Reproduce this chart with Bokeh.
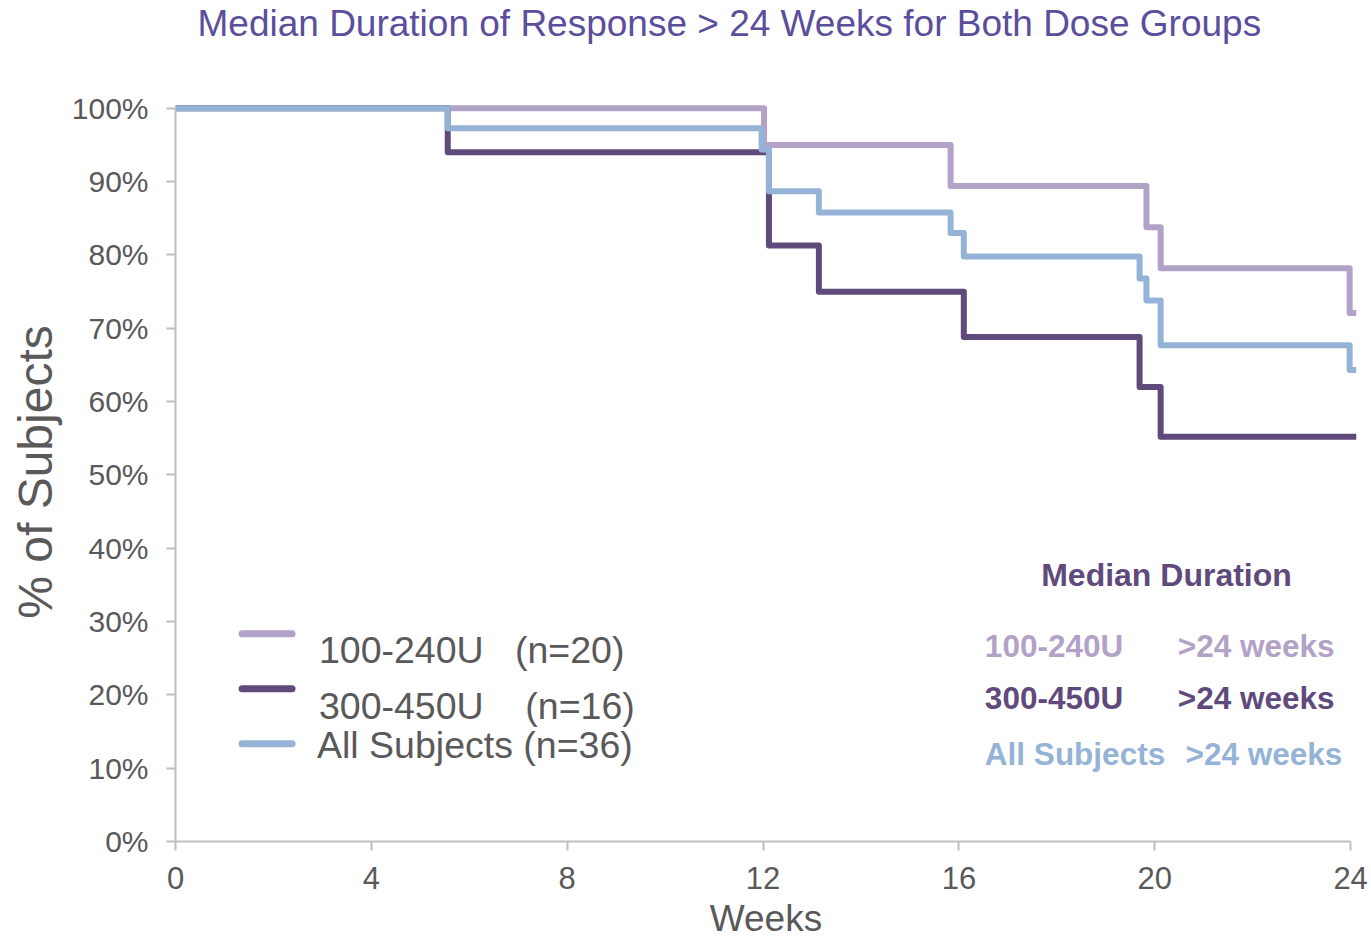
from bokeh.plotting import figure
from bokeh.models import ColumnDataSource, FixedTicker, PrintfTickFormatter, Range1d, Title
from bokeh.core.properties import value
from bokeh.embed import file_html
from bokeh.resources import INLINE

# ---------------- data ----------------
weeks_low = [0, 12.02, 15.83, 19.83, 20.12, 23.98, 24.12]
pct_low = [100, 95.0, 89.4, 83.8, 78.2, 72.1, 72.1]

weeks_high = [0, 5.56, 12.12, 13.14, 16.1, 19.69, 20.12, 24.12]
pct_high = [100, 94.0, 81.3, 75.0, 68.8, 62.0, 55.2, 55.2]

weeks_all = [0, 5.56, 11.97, 12.12, 13.14, 15.83, 16.1, 19.69, 19.83, 20.12, 23.98, 24.12]
pct_all = [100, 97.3, 94.4, 88.7, 85.8, 83.0, 79.8, 76.8, 73.8, 67.7, 64.3, 64.3]

NB = "\u00a0"
legend_labels = ["100-240U" + NB * 3 + "(n=20)", "300-450U" + NB * 4 + "(n=16)",
                 "All Subjects (n=36)"]
median_groups = ["100-240U", "300-450U", "All Subjects"]
median_values = [">24 weeks", ">24 weeks", ">24 weeks"]
median_header = "Median Duration"

x_ticks = [0, 4, 8, 12, 16, 20, 24]
y_ticks = [0, 10, 20, 30, 40, 50, 60, 70, 80, 90, 100]

title_text = "Median Duration of Response > 24 Weeks for Both Dose Groups"
x_label = "Weeks"
y_label = "% of Subjects"

# ---------------- style ----------------
FONT = "Liberation Sans"
C_LOW = "#B3A2C7"
C_HIGH = "#604A7B"
C_ALL = "#95B3D7"
GRAY = "#595959"
AXIS = "#BFBFBF"
TITLE_C = "#5B4E9C"
series_colors = [C_LOW, C_HIGH, C_ALL]

p = figure(width=1371, height=941, output_backend="svg", toolbar_location=None,
           x_range=Range1d(0, 24.12), y_range=Range1d(0, 100.8),
           min_border_left=175, min_border_right=15, min_border_top=102,
           min_border_bottom=99)
p.outline_line_color = None
p.xgrid.visible = False
p.ygrid.visible = False
p.background_fill_color = "white"
p.border_fill_color = "white"

# spacer (closest to frame) then the real title above it
spacer = Title(text=" ", text_font_size="1px", standoff=56)
p.add_layout(spacer, "above")
main_title = Title(text=title_text, text_font=FONT, text_font_size="37px",
                   text_font_style="normal", text_color=TITLE_C, align="left",
                   offset=22, standoff=0, vertical_align="bottom")
p.add_layout(main_title, "above")

for ax in (p.xaxis[0], p.yaxis[0]):
    ax.axis_line_color = AXIS
    ax.axis_line_width = 2
    ax.major_tick_line_color = AXIS
    ax.major_tick_line_width = 2
    ax.major_tick_out = 9
    ax.major_tick_in = 0
    ax.minor_tick_line_color = None
    ax.major_label_text_font = FONT
    ax.major_label_text_color = GRAY
    ax.axis_label_text_font = FONT
    ax.axis_label_text_font_style = "normal"
    ax.axis_label_text_color = GRAY

p.xaxis.ticker = FixedTicker(ticks=x_ticks)
p.xaxis.bounds = (0, 24)
p.xaxis.axis_label = x_label
p.xaxis.major_label_text_font_size = "31px"
p.xaxis.axis_label_text_font_size = "37px"
p.xaxis.major_label_standoff = 16
p.xaxis.axis_label_standoff = 6

p.yaxis.ticker = FixedTicker(ticks=y_ticks)
p.yaxis.bounds = (0, 100)
p.yaxis.formatter = PrintfTickFormatter(format="%d%%")
p.yaxis.axis_label = y_label
p.yaxis.major_label_text_font_size = "30px"
p.yaxis.axis_label_text_font_size = "48px"
p.yaxis.major_label_standoff = 18
p.yaxis.axis_label_standoff = 7

# ---------------- curves ----------------
for xs, ys, c in [(weeks_low, pct_low, C_LOW), (weeks_high, pct_high, C_HIGH),
                  (weeks_all, pct_all, C_ALL)]:
    p.step(x=xs, y=ys, mode="after", line_width=6, line_color=c, line_join="round")

# ---------------- legend ----------------
leg_y = [28.34, 20.84, 13.35]
leg_src = ColumnDataSource(dict(x0=[1.36] * 3, x1=[2.38] * 3, y=leg_y, c=series_colors))
p.segment(x0="x0", y0="y", x1="x1", y1="y", line_color="c", line_width=7,
          line_cap="round", source=leg_src)
leg_txt = ColumnDataSource(dict(x=[2.93, 2.93, 2.89], y=[26.16, 18.46, 13.15],
                                t=legend_labels))
p.text(x="x", y="y", text="t", source=leg_txt, text_font=value(FONT),
       text_font_size="37.5px", text_color=GRAY, text_baseline="middle",
       text_align="left")

# ---------------- median table ----------------
p.text(x=[20.24], y=[36.38], text=[median_header], text_font=value(FONT),
       text_font_size="32px", text_font_style="bold", text_color=C_HIGH,
       text_align="center", text_baseline="middle")
tab = ColumnDataSource(dict(x=[16.53] * 3, xv=[20.47, 20.47, 20.63],
                            y=[26.70, 19.62, 11.99], g=median_groups,
                            v=median_values, c=series_colors))
p.text(x="x", y="y", text="g", source=tab, text_font=value(FONT),
       text_font_size="31.5px", text_font_style="bold", text_color="c",
       text_align="left", text_baseline="middle")
p.text(x="xv", y="y", text="v", source=tab, text_font=value(FONT),
       text_font_size="31.5px", text_font_style="bold", text_color="c",
       text_align="left", text_baseline="middle")

open("out.html", "w").write(file_html(p, INLINE))
